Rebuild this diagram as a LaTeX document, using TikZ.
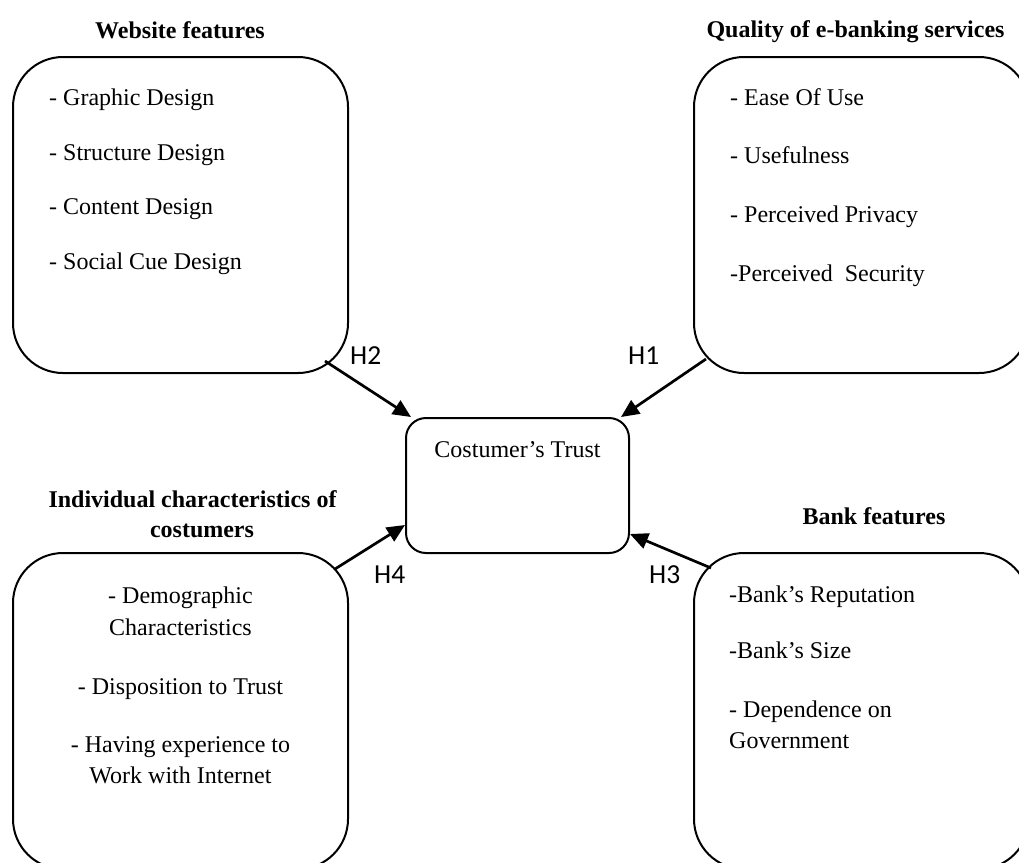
\documentclass[tikz,border=0pt]{standalone}
\usepackage{fontspec}
\setmainfont{Liberation Serif}
\newfontfamily\labelfont{Carlito}
\usetikzlibrary{arrows.meta}
\begin{document}
\begin{tikzpicture}[x=1pt,y=-1pt,
  panel/.style={draw, line width=2pt, rounded corners=50pt,
    minimum width=335pt, minimum height=316pt, inner sep=0pt},
  core/.style={draw, line width=2pt, rounded corners=20pt,
    minimum width=223pt, minimum height=135pt, inner sep=0pt},
  item/.style={anchor=base west, inner sep=0pt, font=\fontsize{24}{30}\selectfont},
  citem/.style={anchor=base, inner sep=0pt, font=\fontsize{24}{30}\selectfont},
  heading/.style={anchor=base, inner sep=0pt, font=\fontsize{24}{30}\selectfont\bfseries},
  hyp/.style={anchor=base west, inner sep=0pt, font=\labelfont\fontsize{27.5}{30}\selectfont},
  link/.style={line width=2.7pt, -{Triangle[length=18pt,width=16pt]}}]

\useasboundingbox (0,0) rectangle (1019,862);
\clip (0,0) rectangle (1019,862);

% the four factor panels and the central construct
\node[panel] (web)  at (180.5,215) {};
\node[panel] (qual) at (861.5,215) {};
\node[panel] (indiv) at (180.5,711) {};
\node[panel] (bank) at (861.5,711) {};
\node[core]  (trust) at (517.5,485.5) {};

% panel headings
\node[heading] (hweb)   at (180,38)    {Website features};
\node[heading] (hqual)  at (855.5,37)  {Quality of e-banking services};
\node[heading] (hind1)  at (192.5,507) {Individual characteristics of};
\node[heading] (hind2)  at (202,537)   {costumers};
\node[heading] (hbank)  at (874,524)   {Bank features};

% website features
\node[item] (w1) at (49,105) {- Graphic Design};
\node[item] (w2) at (49,160) {- Structure Design};
\node[item] (w3) at (49,214) {- Content Design};
\node[item] (w4) at (49,269) {- Social Cue Design};

% quality of e-banking services
\node[item] (q1) at (730,105) {- Ease Of Use};
\node[item] (q2) at (730,163) {- Usefulness};
\node[item] (q3) at (730,222) {- Perceived Privacy};
\node[item] (q4) at (730,281) {-Perceived~~Security};

% individual characteristics
\node[citem] (i1) at (180.5,603) {- Demographic};
\node[citem] (i2) at (180.5,635) {Characteristics};
\node[citem] (i3) at (180.5,694) {- Disposition to Trust};
\node[citem] (i4) at (180.5,752) {- Having experience to};
\node[citem] (i5) at (180.5,783) {Work with Internet};

% bank features
\node[item] (b1) at (729,602) {-Bank’s Reputation};
\node[item] (b2) at (729,658) {-Bank’s Size};
\node[item] (b3) at (729,717) {- Dependence on};
\node[item] (b4) at (729,748) {Government};

% central construct
\node[citem] (t1) at (517.5,457) {Costumer’s Trust};

% hypothesis links
\coordinate (s2) at (325,361);
\coordinate (s1) at (706,359);
\coordinate (s4) at (335,569);
\coordinate (s3) at (711,568);
\draw[link] (s2) -- ([xshift=6pt]trust.north west);
\draw[link] (s1) -- ([xshift=-9pt]trust.north east);
\draw[link] (s4) -- ([yshift=29pt]trust.south west);
\draw[link] (s3) -- ([yshift=20pt]trust.south east);

\node[hyp] (h2) at (350,364) {H2};
\node[hyp] (h1) at (628,364) {H1};
\node[hyp] (h4) at (374,583) {H4};
\node[hyp] (h3) at (649,583) {H3};
\end{tikzpicture}
\end{document}
